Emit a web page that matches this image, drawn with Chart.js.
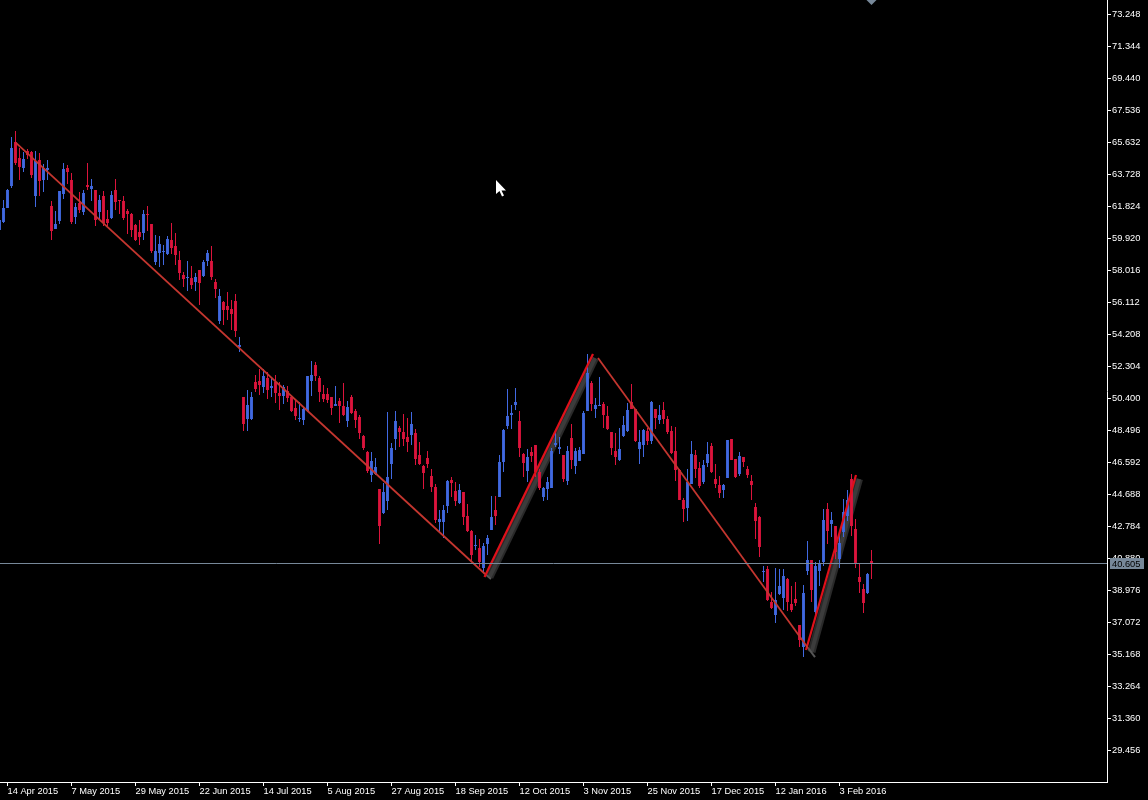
<!DOCTYPE html>
<html>
<head>
<meta charset="utf-8">
<title>Chart</title>
<script src="https://cdn.jsdelivr.net/npm/chart.js@4/dist/chart.umd.js"></script>
<style>
  html, body { margin: 0; padding: 0; background: #000; overflow: hidden; }
  canvas { display: block; }
</style>
</head>
<body>
<canvas id="priceChart" width="1148" height="800"></canvas>
<script>
// Daily candles
const opens = [
  60.43,60.90,61.73,63.04,65.66,64.71,64.11,65.13,65.07,62.45,
  64.59,63.40,63.99,61.85,60.48,60.96,62.57,64.11,63.40,61.20,
  62.03,61.50,63.10,62.86,62.80,61.50,62.45,61.08,61.14,62.80,
  62.21,62.15,61.56,61.38,60.72,60.31,60.25,61.38,60.78,58.52,
  59.06,59.12,59.00,59.83,59.47,58.64,57.75,57.57,57.57,57.33,
  58.05,57.69,58.58,58.58,57.33,55.01,56.14,55.90,55.72,56.20,
  53.46,50.49,49.18,49.18,51.38,51.44,51.08,51.62,51.02,51.38,
  50.73,50.55,50.85,50.49,49.83,49.18,49.12,49.66,51.44,52.39,
  51.62,50.67,50.67,50.49,49.95,50.25,49.95,49.06,50.49,49.66,
  49.30,48.17,47.22,45.85,45.91,45.01,43.59,44.30,46.50,47.99,
  48.64,48.41,48.11,48.23,48.35,47.04,46.38,46.86,45.79,45.13,
  43.05,43.05,44.00,45.55,44.90,44.18,44.84,43.41,42.52,41.62,
  41.50,40.31,41.74,42.58,43.77,44.54,46.62,48.76,49.42,50.01,
  49.06,47.10,46.09,47.22,47.63,46.03,44.54,45.01,45.07,47.63,
  47.39,47.04,45.49,48.05,46.38,46.68,47.10,49.66,51.32,49.77,
  49.95,50.07,49.36,48.41,47.28,46.74,48.17,48.47,50.19,49.77,
  47.39,47.63,48.47,47.87,49.77,49.12,49.72,49.18,48.47,47.28,
  46.15,44.36,43.88,45.31,47.04,46.26,45.43,46.56,47.57,45.61,
  45.25,44.96,45.67,47.99,46.80,45.91,46.92,46.20,45.49,43.94,
  43.35,40.08,40.25,38.29,37.52,38.77,38.53,39.66,38.17,38.47,
  36.92,35.61,40.14,40.79,37.70,40.14,40.67,43.82,42.93,42.81,
  40.85,42.46,43.41,45.61,42.63,39.78,39.06,38.83,40.73
];
const highs = [
  61.20,62.21,62.86,65.96,66.32,65.30,65.07,65.24,65.13,65.13,
  65.01,64.35,64.59,62.15,61.56,62.75,64.41,64.29,63.82,62.03,
  62.69,62.80,64.41,63.46,62.80,62.51,62.75,61.62,62.75,63.46,
  62.21,62.45,61.67,61.44,60.78,61.02,61.62,61.85,60.78,60.13,
  60.07,59.53,60.07,60.84,60.25,59.18,57.93,58.58,58.28,57.87,
  58.05,58.64,59.24,59.47,57.51,56.91,56.20,56.74,56.26,56.62,
  54.06,50.49,50.90,50.79,51.80,52.15,52.15,51.98,51.68,51.80,
  51.38,51.20,51.14,50.55,50.37,50.19,49.89,51.74,52.63,52.57,
  51.74,51.20,51.02,50.49,51.14,50.43,51.32,50.25,50.61,49.77,
  49.42,48.23,47.28,47.22,46.86,45.01,45.37,49.60,47.75,49.66,
  48.76,49.48,49.24,49.60,48.58,47.81,46.44,47.28,46.20,45.31,
  43.77,44.06,45.55,45.73,45.43,45.31,44.84,44.12,42.58,42.28,
  42.04,41.80,42.28,44.60,44.60,47.04,48.58,50.96,50.01,51.02,
  49.66,47.16,47.39,47.51,47.63,46.20,45.13,45.73,47.45,48.53,
  48.11,47.04,47.57,48.88,47.45,47.51,49.66,53.05,51.44,50.43,
  51.68,50.19,49.95,48.41,48.35,48.64,49.36,50.13,51.26,49.77,
  48.53,48.58,48.64,50.25,49.77,50.01,50.19,49.36,48.76,48.70,
  46.20,44.48,46.20,47.87,47.34,46.62,46.74,47.81,47.75,46.50,
  45.79,45.31,47.93,47.99,46.80,47.22,46.92,46.38,45.85,44.18,
  43.41,40.43,40.43,38.89,40.31,40.25,40.25,39.72,39.24,39.48,
  36.92,39.30,41.92,40.79,40.67,40.79,43.82,44.18,43.65,42.81,
  42.46,44.42,44.96,45.91,43.23,40.55,39.36,40.02,41.38
];
const lows = [
  60.13,60.84,61.73,62.92,64.29,63.40,63.88,64.65,63.52,61.79,
  62.45,62.69,63.40,59.83,60.48,60.78,62.27,63.16,60.78,60.78,
  61.44,61.32,62.80,62.15,60.66,61.02,60.66,60.66,61.08,61.62,
  61.38,61.02,60.19,60.01,59.77,59.53,59.83,60.37,59.06,58.34,
  58.22,58.34,58.94,59.00,58.34,57.45,57.03,56.80,56.91,56.80,
  55.96,57.63,58.28,57.45,56.38,54.83,54.77,55.07,54.47,54.06,
  53.17,48.47,48.47,49.12,50.79,50.61,50.73,50.37,50.49,50.13,
  49.71,50.07,50.19,49.60,49.12,49.00,48.82,49.60,50.55,51.44,
  50.19,50.19,50.13,49.42,49.95,48.94,49.36,48.70,49.48,48.64,
  47.99,47.34,45.97,45.43,45.85,41.74,43.53,43.77,45.61,47.34,
  47.51,47.57,47.22,47.63,46.44,46.44,45.01,46.26,44.84,42.99,
  42.46,42.10,43.59,44.54,44.00,44.12,42.87,42.46,40.73,41.39,
  40.37,40.02,41.09,42.58,42.87,44.54,46.03,48.58,48.58,49.72,
  46.92,45.73,45.43,46.62,45.73,44.95,44.30,44.36,45.07,47.51,
  47.10,45.43,45.25,46.20,45.91,46.68,47.10,49.66,49.66,49.24,
  49.95,48.64,48.53,47.04,46.44,46.68,48.11,48.41,49.77,47.81,
  46.50,46.92,47.63,47.69,48.58,48.88,48.88,48.29,47.10,45.49,
  44.36,43.05,43.11,45.31,45.67,45.07,45.31,46.32,45.97,45.07,
  44.48,44.48,45.67,46.74,45.67,45.79,46.32,45.67,44.36,42.04,
  40.97,39.48,38.35,37.87,37.04,38.71,37.81,37.76,37.70,38.05,
  35.61,35.02,39.90,38.29,37.40,39.24,40.43,41.74,42.16,40.85,
  40.31,42.16,43.11,42.22,40.31,38.83,37.64,38.77,39.66
];
const closes = [
  61.02,61.73,62.80,65.30,64.41,64.17,64.65,64.89,63.70,64.53,
  63.34,64.11,64.11,60.37,60.78,62.75,64.05,63.88,60.90,61.79,
  61.62,62.63,62.98,63.04,61.02,62.21,60.84,60.84,62.51,62.09,
  62.15,61.14,61.38,60.43,59.83,60.01,61.38,61.32,59.18,59.18,
  59.59,59.18,59.89,59.35,58.94,57.87,57.51,57.63,57.15,57.63,
  57.27,58.52,59.06,57.63,56.91,56.50,55.67,55.67,55.43,54.42,
  53.58,48.88,50.01,50.49,50.96,51.20,51.74,50.90,51.14,50.73,
  50.55,51.08,50.43,49.66,49.36,49.24,49.77,51.74,51.80,51.74,
  50.79,50.37,50.31,49.83,50.07,49.95,49.42,49.89,49.54,49.12,
  48.35,47.45,46.08,46.68,46.32,42.81,44.84,45.73,47.45,49.06,
  48.41,47.99,47.81,48.88,46.80,46.50,45.97,46.50,45.13,43.17,
  43.23,43.77,45.49,45.37,44.30,44.96,43.35,42.52,41.09,41.68,
  40.67,41.62,42.10,43.35,43.41,46.62,48.53,49.36,49.54,50.19,
  47.45,46.56,46.92,46.98,46.03,45.07,45.07,45.43,47.28,47.75,
  47.51,45.61,47.28,46.74,47.28,47.34,49.54,51.92,50.07,50.01,
  50.01,49.42,48.58,47.45,46.92,47.39,48.82,49.72,49.77,47.87,
  47.81,48.53,47.87,50.19,49.24,49.42,49.18,48.41,47.16,46.15,
  44.36,43.82,45.43,47.10,46.20,45.19,46.44,47.10,46.03,45.31,
  44.78,45.25,47.93,46.74,45.73,46.98,46.62,45.85,45.25,43.11,
  41.56,40.14,38.41,37.93,38.41,39.24,39.84,38.29,37.81,38.23,
  36.03,38.83,40.79,39.00,40.43,40.55,43.17,42.52,43.17,41.27,
  41.80,43.65,44.36,42.81,40.61,39.48,38.23,39.96,40.61
];

// Swing lines, [bar, price]
const downSwing1 = [[4.125, 65.63], [121.375, 39.98]];
const downTail1 = [[121.375, 39.98], [122.875, 39.68]];
const upSwing1 = [[121.25, 39.80], [148.375, 53.07]];
const upShade1 = [[122.5, 39.80], [148.875, 52.83]];
const downSwing2 = [[149.625, 52.83], [202.125, 35.58]];
const downTail2 = [[202.125, 35.58], [203.875, 35.04]];
const upSwing2 = [[201.625, 35.46], [214.125, 45.87]];
const upShade2 = [[203, 35.34], [214.875, 45.63]];

const lastPrice = 40.605;
const topMarker = [[218, 74.134]];

// Axis ticks
const priceTicks = [
  73.248, 71.344, 69.44, 67.536, 65.632, 63.728, 61.824, 59.92,
  58.016, 56.112, 54.208, 52.304, 50.4, 48.496, 46.592, 44.688,
  42.784, 40.88, 38.976, 37.072, 35.168, 33.264, 31.36, 29.456
];
const dateTickBars = [2, 18, 34, 50, 66, 82, 98, 114, 130, 146, 162, 178, 194, 210];
const dateTickLabels = [
  "14 Apr 2015", "7 May 2015", "29 May 2015", "22 Jun 2015", "14 Jul 2015",
  "5 Aug 2015", "27 Aug 2015", "18 Sep 2015", "12 Oct 2015", "3 Nov 2015",
  "25 Nov 2015", "17 Dec 2015", "12 Jan 2016", "3 Feb 2016"
];

const UP_COLOR = "#4169e1";
const DOWN_COLOR = "#dc143c";
const AXIS_FONT = { family: "'Liberation Sans', Arial, sans-serif", size: 9.3 };

const candleColors = opens.map((o, i) => (closes[i] >= o ? UP_COLOR : DOWN_COLOR));
const toPoints = (pairs) => pairs.map((p) => ({ x: p[0], y: p[1] }));

function lineSet(pairs, color, width, order) {
  return {
    type: "line",
    data: toPoints(pairs),
    borderColor: color,
    borderWidth: width,
    pointRadius: 0,
    order: order,
  };
}

// Zero the label overhang so the plot area runs to the canvas edge
function fixAxisSize(scale, width, height) {
  if (width) scale.width = width;
  if (height) scale.height = height;
  scale.paddingLeft = scale.paddingRight = scale.paddingTop = scale.paddingBottom = 0;
}

// Snap candle edges to whole pixels, like the terminal draws them
const snapCandles = {
  id: "snapCandles",
  beforeDatasetsDraw(chart) {
    chart.getSortedVisibleDatasetMetas().forEach((meta) => {
      if (meta.type !== "bar") return;
      meta.data.forEach((bar) => {
        bar.y = Math.floor(bar.y);
        bar.base = Math.floor(bar.base);
        if (bar.y === bar.base) bar.base += 1;
      });
    });
  },
};

// Price tag over the axis and the mouse pointer caught in the screenshot
const overlays = {
  id: "overlays",
  afterDraw(chart) {
    const ctx = chart.ctx;
    const y = Math.floor(chart.scales.y.getPixelForValue(lastPrice));
    ctx.save();
    ctx.fillStyle = "#778899";
    ctx.fillRect(1110, y - 5, 34, 11);
    ctx.fillStyle = "#000";
    ctx.font = "9.3px " + AXIS_FONT.family;
    ctx.textBaseline = "middle";
    ctx.textAlign = "left";
    ctx.fillText(lastPrice.toFixed(3), 1112, y + 1);

    ctx.fillStyle = "#fff";
    ctx.beginPath();
    ctx.moveTo(496, 180);
    ctx.lineTo(496, 194);
    ctx.lineTo(499.5, 191);
    ctx.lineTo(502, 196.5);
    ctx.lineTo(504, 195.5);
    ctx.lineTo(501.5, 190.5);
    ctx.lineTo(506, 190.5);
    ctx.closePath();
    ctx.fill();
    ctx.restore();
  },
};

new Chart(document.getElementById("priceChart").getContext("2d"), {
  type: "bar",
  data: {
    datasets: [
      lineSet(upShade1, "#2a2a2a", 8, 7),
      lineSet(upShade2, "#2a2a2a", 8, 7),
      lineSet(upShade1, "#3c3c3c", 4, 6),
      lineSet(upShade2, "#3c3c3c", 4, 6),
      {
        // wicks
        data: lows.map((l, i) => ({ x: i, y: [l, highs[i]] })),
        backgroundColor: candleColors,
        maxBarThickness: 1,
        grouped: false,
        order: 4,
      },
      {
        // bodies
        data: opens.map((o, i) => ({ x: i, y: [o, closes[i]] })),
        backgroundColor: candleColors,
        maxBarThickness: 3,
        grouped: false,
        order: 3,
      },
      lineSet(downTail1, "#555555", 2, 2),
      lineSet(downTail2, "#555555", 2, 2),
      lineSet(downSwing1, "#c4362f", 1.8, 1),
      lineSet(downSwing2, "#c4362f", 1.8, 1),
      lineSet(upSwing1, "#e0101a", 2.2, 1),
      lineSet(upSwing2, "#e0101a", 2.2, 1),
      // current price line
      lineSet([[0.125, lastPrice], [276.875, lastPrice]], "#778899", 1, 0),
      {
        type: "line",
        data: toPoints(topMarker),
        showLine: false,
        pointStyle: "rectRot",
        pointRadius: 5,
        pointBackgroundColor: "#778899",
        pointBorderWidth: 0,
        order: 0,
      },
    ],
  },
  options: {
    responsive: false,
    animation: false,
    events: [],
    devicePixelRatio: 1,
    layout: { padding: 0, autoPadding: false },
    plugins: {
      legend: { display: false },
      tooltip: { enabled: false },
    },
    scales: {
      x: {
        type: "linear",
        offset: false,
        min: 0.125,
        max: 276.875,
        grid: { drawOnChartArea: false, offset: false, color: "#fff", tickLength: 4 },
        border: { color: "#fff" },
        afterBuildTicks: (scale) => {
          scale.ticks = dateTickBars.map((v) => ({ value: v }));
        },
        afterFit: (scale) => fixAxisSize(scale, 0, 18),
        ticks: {
          color: "#fff",
          font: AXIS_FONT,
          align: "start",
          padding: 0,
          maxRotation: 0,
          autoSkip: false,
          callback: (v, i) => dateTickLabels[i],
        },
      },
      y: {
        position: "right",
        min: 27.605,
        max: 74.134,
        grid: { drawOnChartArea: false, color: "#fff", tickLength: 4 },
        border: { color: "#fff" },
        afterBuildTicks: (scale) => {
          scale.ticks = priceTicks.map((v) => ({ value: v }));
        },
        afterFit: (scale) => fixAxisSize(scale, 41, 0),
        ticks: {
          color: "#fff",
          font: AXIS_FONT,
          padding: 1,
          autoSkip: false,
          callback: (v) => v.toFixed(3),
        },
      },
    },
  },
  plugins: [snapCandles, overlays],
});
</script>
</body>
</html>
